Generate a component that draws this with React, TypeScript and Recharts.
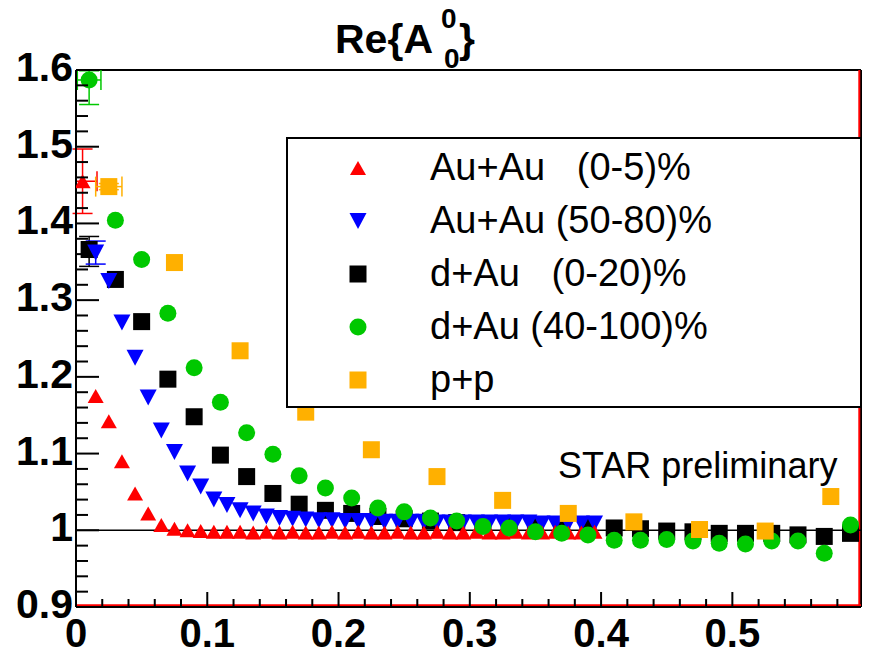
import { ScatterChart, Scatter, XAxis, YAxis, ErrorBar, ReferenceLine, Legend } from 'recharts'

const FONT = '"Liberation Sans", Arial, Helvetica, sans-serif'

// bin centres (GeV/c)
const binsFine = [
  0.005, 0.015, 0.025, 0.035, 0.045, 0.055, 0.065, 0.075, 0.085, 0.095,
  0.105, 0.115, 0.125, 0.135, 0.145, 0.155, 0.165, 0.175, 0.185, 0.195,
  0.205, 0.215, 0.225, 0.235, 0.245, 0.255, 0.265, 0.275, 0.285, 0.295,
  0.305, 0.315, 0.325, 0.335, 0.345, 0.355, 0.365, 0.375, 0.385, 0.395,
]
const binsCoarse = [
  0.01, 0.03, 0.05, 0.07, 0.09, 0.11, 0.13, 0.15, 0.17, 0.19,
  0.21, 0.23, 0.25, 0.27, 0.29, 0.31, 0.33, 0.35, 0.37, 0.39,
  0.41, 0.43, 0.45, 0.47, 0.49, 0.51, 0.53, 0.55, 0.57, 0.59,
]
const binsPP = [0.025, 0.075, 0.125, 0.175, 0.225, 0.275, 0.325, 0.375, 0.425, 0.475, 0.525, 0.575]

// Au+Au (0-5)%
const auAuCentralY = [
  1.455, 1.175, 1.142, 1.090, 1.048, 1.022, 1.007, 1.002, 1.000, 0.999,
  0.998, 0.998, 0.998, 0.997, 0.998, 0.997, 0.998, 0.997, 0.997, 0.998,
  0.997, 0.998, 0.997, 0.997, 0.998, 0.997, 0.997, 0.998, 0.997, 0.997,
  0.998, 0.997, 0.997, 0.998, 0.997, 0.997, 0.998, 0.997, 0.997, 0.998,
]
// Au+Au (50-80)%, starts at the second fine bin
const auAuPeriphX = binsFine.slice(1)
const auAuPeriphY = [
  1.362, 1.325, 1.271, 1.225, 1.173, 1.130, 1.102, 1.074, 1.057, 1.040,
  1.033, 1.026, 1.022, 1.018, 1.016, 1.015, 1.014, 1.013, 1.013, 1.012,
  1.012, 1.012, 1.011, 1.011, 1.011, 1.011, 1.010, 1.010, 1.010, 1.010,
  1.010, 1.010, 1.010, 1.010, 1.009, 1.009, 1.009, 1.009, 1.009,
]
// d+Au (0-20)%
const dAuCentralY = [
  1.366, 1.327, 1.272, 1.197, 1.148, 1.098, 1.070, 1.048, 1.034, 1.026,
  1.022, 1.018, 1.015, 1.012, 1.010, 1.008, 1.007, 1.006, 1.005, 1.004,
  1.003, 1.002, 0.999, 0.998, 0.996, 0.996, 0.996, 0.994, 0.992, 0.996,
]
// d+Au (40-100)%
const dAuPeriphY = [
  1.587, 1.404, 1.353, 1.283, 1.212, 1.167, 1.127, 1.099, 1.071, 1.055,
  1.042, 1.029, 1.024, 1.016, 1.012, 1.005, 1.003, 0.998, 0.996, 0.994,
  0.987, 0.987, 0.988, 0.986, 0.983, 0.982, 0.986, 0.986, 0.970, 1.007,
]
// p+p
const ppY = [1.448, 1.349, 1.234, 1.154, 1.105, 1.070, 1.039, 1.022, 1.011, 1.001, 0.999, 1.044]

// errors are only shown on the lowest bin
const auAuCentralErr = { x: [0.005, 0.011], y: 0.042 }
const auAuPeriphErr = { x: 0, y: 0.015 }
const dAuCentralErr = { x: 0, y: [0.022, 0.017] }
const dAuPeriphErr = { x: 0.009, y: [0.032, 0.012] }
const ppErr = { x: 0.01, y: 0.004 }

const yMajor = [0.9, 1.0, 1.1, 1.2, 1.3, 1.4, 1.5, 1.6]
const xMajor = [0, 0.1, 0.2, 0.3, 0.4, 0.5]

const minorTicks = (from: number, to: number) => {
  const out: number[] = []
  for (let k = Math.round(from * 50); k <= Math.round(to * 50); k++) out.push(k / 50)
  return out
}
const yTicks = minorTicks(0.9, 1.6)
const xTicks = minorTicks(0, 0.58)
const isMajor = (v: number, majors: number[]) => majors.some((m) => Math.abs(m - v) < 1e-6)

const toPoints = (xs: number[], ys: number[], err: { x: any; y: any }) =>
  xs.map((x, i) => ({
    x,
    y: ys[i],
    ex: i === 0 ? err.x : undefined,
    ey: i === 0 ? err.y : undefined,
  }))

type Kind = 'up' | 'down' | 'square' | 'circle'

function Marker({ kind, cx, cy, color }: { kind: Kind; cx: number; cy: number; color: string }) {
  if (kind === 'up') {
    const w = 16, h = 14
    return <polygon points={`${cx},${cy - h / 2} ${cx - w / 2},${cy + h / 2} ${cx + w / 2},${cy + h / 2}`} fill={color} />
  }
  if (kind === 'down') {
    const w = 17, h = 16
    return <polygon points={`${cx - w / 2},${cy - h / 2} ${cx + w / 2},${cy - h / 2} ${cx},${cy + h / 2}`} fill={color} />
  }
  if (kind === 'square') {
    const s = 17
    return <rect x={cx - s / 2} y={cy - s / 2} width={s} height={s} fill={color} />
  }
  return <circle cx={cx} cy={cy} r={8.5} fill={color} />
}

const series = [
  { key: 'auau05', name: 'Au+Au   (0-5)%', kind: 'up' as Kind, color: '#ff0000', data: toPoints(binsFine, auAuCentralY, auAuCentralErr) },
  { key: 'auau5080', name: 'Au+Au (50-80)%', kind: 'down' as Kind, color: '#0000ff', data: toPoints(auAuPeriphX, auAuPeriphY, auAuPeriphErr) },
  { key: 'dau020', name: 'd+Au   (0-20)%', kind: 'square' as Kind, color: '#000000', data: toPoints(binsCoarse, dAuCentralY, dAuCentralErr) },
  { key: 'dau40100', name: 'd+Au (40-100)%', kind: 'circle' as Kind, color: '#00c800', data: toPoints(binsCoarse, dAuPeriphY, dAuPeriphErr) },
  { key: 'pp', name: 'p+p', kind: 'square' as Kind, color: '#ffb000', data: toPoints(binsPP, ppY, ppErr) },
]
// ROOT drew them in this order
const drawOrder = ['dau020', 'auau5080', 'auau05', 'dau40100', 'pp']

function YTick(props: any) {
  const { x, y, payload } = props
  const v = payload.value
  const major = isMajor(v, yMajor)
  return (
    <g>
      <line x1={x} x2={x + (major ? 23 : 12)} y1={y} y2={y} stroke='#000' strokeWidth={2} />
      {major && (
        <text x={x - 3} y={y - 3} textAnchor='end' dominantBaseline='central' fontFamily={FONT} fontWeight='bold' fontSize={41} fill='#000'>
          {String(Number(v.toFixed(1)))}
        </text>
      )}
    </g>
  )
}

function XTick(props: any) {
  const { x, y, payload } = props
  const v = payload.value
  const major = isMajor(v, xMajor)
  return (
    <g>
      <line x1={x} x2={x} y1={y} y2={y - (major ? 15 : 8)} stroke='#000' strokeWidth={2} />
      {major && (
        <text x={x} y={y + 26} textAnchor='middle' dominantBaseline='central' fontFamily={FONT} fontWeight='bold' fontSize={40} fill='#000'>
          {String(Number(v.toFixed(1)))}
        </text>
      )}
    </g>
  )
}

function LegendBox() {
  return (
    <div
      style={{
        width: '100%',
        height: '100%',
        boxSizing: 'border-box',
        border: '2px solid #000',
        background: '#fff',
        paddingTop: 2,
      }}
    >
      {series.map((s) => (
        <div key={s.key} style={{ height: 53, display: 'flex', alignItems: 'center', fontFamily: FONT, fontSize: 38 }}>
          <svg width={30} height={30} style={{ marginLeft: 55, marginRight: 57, flexShrink: 0 }}>
            <Marker kind={s.kind} cx={15} cy={15} color={s.color} />
          </svg>
          <span style={{ whiteSpace: 'pre', color: '#000' }}>{s.name}</span>
        </div>
      ))}
    </div>
  )
}

export default function App() {
  return (
    <div style={{ position: 'absolute', left: 0, top: 0, width: 870, height: 654, background: '#fff' }}>
      <ScatterChart width={870} height={654} margin={{ top: 70, right: 9, bottom: 0, left: 0 }}>
        <XAxis
          type='number'
          dataKey='x'
          domain={[0, 0.598]}
          ticks={xTicks}
          interval={0}
          tick={<XTick />}
          tickLine={false}
          tickSize={0}
          tickMargin={0}
          axisLine={{ stroke: '#000', strokeWidth: 2 }}
          height={47}
          allowDataOverflow
        />
        <YAxis
          type='number'
          dataKey='y'
          domain={[0.9, 1.6]}
          ticks={yTicks}
          interval={0}
          tick={<YTick />}
          tickLine={false}
          tickSize={0}
          tickMargin={0}
          axisLine={{ stroke: '#000', strokeWidth: 2 }}
          width={76}
          allowDataOverflow
        />
        <ReferenceLine y={1.6} stroke='#000' strokeWidth={2} />
        <ReferenceLine x={0.598} stroke='#000' strokeWidth={2} />
        <ReferenceLine x={0.5967} stroke='#ff0000' strokeWidth={2} />
        <ReferenceLine y={0.9018} stroke='#ff0000' strokeWidth={2.5} />
        <ReferenceLine y={1} stroke='#000' strokeWidth={1.5} />
        {drawOrder.map((k) => {
          const s = series.find((d) => d.key === k)!
          return (
            <Scatter
              key={s.key}
              name={s.name}
              data={s.data}
              fill={s.color}
              isAnimationActive={false}
              shape={(p: any) => <Marker kind={s.kind} cx={p.cx} cy={p.cy} color={s.color} />}
            >
              <ErrorBar dataKey='ey' direction='y' width={10} stroke={s.color} strokeWidth={1.5} isAnimationActive={false} />
              <ErrorBar dataKey='ex' direction='x' width={10} stroke={s.color} strokeWidth={1.5} isAnimationActive={false} />
            </Scatter>
          )
        })}
        <Legend
          layout='vertical'
          align='center'
          verticalAlign='middle'
          content={() => <LegendBox />}
          wrapperStyle={{ position: 'absolute', left: 286, top: 137, width: 576, height: 271, margin: 0 }}
        />
      </ScatterChart>
      <svg
        width={870}
        height={654}
        style={{ position: 'absolute', left: 0, top: 0, pointerEvents: 'none' }}
        fontFamily={FONT}
      >
        <text x={335} y={53} fontSize={41} fontWeight='bold' fill='#000'>Re{'{'}A</text>
        <text x={441} y={28} fontSize={28} fontWeight='bold' fill='#000'>0</text>
        <text x={444} y={68} fontSize={28} fontWeight='bold' fill='#000'>0</text>
        <text x={459} y={53} fontSize={41} fontWeight='bold' fill='#000'>{'}'}</text>
        <text x={558} y={478} fontSize={36} fill='#000'>STAR preliminary</text>
      </svg>
    </div>
  )
}
